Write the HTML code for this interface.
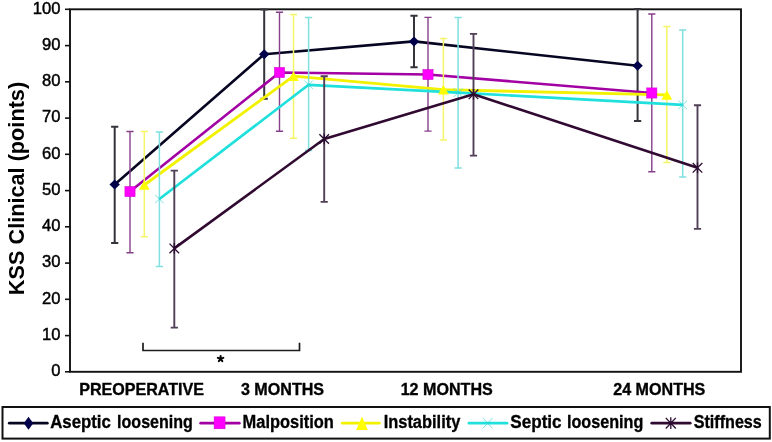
<!DOCTYPE html><html><head><meta charset="utf-8"><style>html,body{margin:0;padding:0;background:#fff;width:772px;height:442px;overflow:hidden}svg{display:block}text{font-family:"Liberation Sans",sans-serif}</style></head><body>
<svg width="772" height="442" viewBox="0 0 772 442">
<rect width="772" height="442" fill="#fff"/>
<g style="will-change:transform">
<rect x="70" y="9.3" width="671" height="362.5" fill="none" stroke="#111" stroke-width="1.9"/>
<line x1="65" y1="371.8" x2="70" y2="371.8" stroke="#111" stroke-width="1.6"/>
<text x="60.5" y="376.1" font-size="16.6" text-anchor="end" fill="#000" stroke="#000" stroke-width="0.45">0</text>
<line x1="65" y1="335.6" x2="70" y2="335.6" stroke="#111" stroke-width="1.6"/>
<text x="60.5" y="339.9" font-size="16.6" text-anchor="end" fill="#000" stroke="#000" stroke-width="0.45">10</text>
<line x1="65" y1="299.3" x2="70" y2="299.3" stroke="#111" stroke-width="1.6"/>
<text x="60.5" y="303.6" font-size="16.6" text-anchor="end" fill="#000" stroke="#000" stroke-width="0.45">20</text>
<line x1="65" y1="263.1" x2="70" y2="263.1" stroke="#111" stroke-width="1.6"/>
<text x="60.5" y="267.4" font-size="16.6" text-anchor="end" fill="#000" stroke="#000" stroke-width="0.45">30</text>
<line x1="65" y1="226.8" x2="70" y2="226.8" stroke="#111" stroke-width="1.6"/>
<text x="60.5" y="231.1" font-size="16.6" text-anchor="end" fill="#000" stroke="#000" stroke-width="0.45">40</text>
<line x1="65" y1="190.6" x2="70" y2="190.6" stroke="#111" stroke-width="1.6"/>
<text x="60.5" y="194.9" font-size="16.6" text-anchor="end" fill="#000" stroke="#000" stroke-width="0.45">50</text>
<line x1="65" y1="154.3" x2="70" y2="154.3" stroke="#111" stroke-width="1.6"/>
<text x="60.5" y="158.6" font-size="16.6" text-anchor="end" fill="#000" stroke="#000" stroke-width="0.45">60</text>
<line x1="65" y1="118.1" x2="70" y2="118.1" stroke="#111" stroke-width="1.6"/>
<text x="60.5" y="122.4" font-size="16.6" text-anchor="end" fill="#000" stroke="#000" stroke-width="0.45">70</text>
<line x1="65" y1="81.8" x2="70" y2="81.8" stroke="#111" stroke-width="1.6"/>
<text x="60.5" y="86.1" font-size="16.6" text-anchor="end" fill="#000" stroke="#000" stroke-width="0.45">80</text>
<line x1="65" y1="45.6" x2="70" y2="45.6" stroke="#111" stroke-width="1.6"/>
<text x="60.5" y="49.9" font-size="16.6" text-anchor="end" fill="#000" stroke="#000" stroke-width="0.45">90</text>
<line x1="65" y1="9.3" x2="70" y2="9.3" stroke="#111" stroke-width="1.6"/>
<text x="60.5" y="13.6" font-size="16.6" text-anchor="end" fill="#000" stroke="#000" stroke-width="0.45">100</text>
<text transform="translate(24,188.5) rotate(-90)" font-size="21.7" font-weight="bold" text-anchor="middle" fill="#000">KSS Clinical (points)</text>
<text x="141.6" y="394.6" font-size="16.1" font-weight="bold" text-anchor="middle" fill="#000" stroke="#000" stroke-width="0.35">PREOPERATIVE</text>
<text x="282.5" y="394.6" font-size="16.1" font-weight="bold" text-anchor="middle" fill="#000" stroke="#000" stroke-width="0.35">3 MONTHS</text>
<text x="446.7" y="394.6" font-size="16.1" font-weight="bold" text-anchor="middle" fill="#000" stroke="#000" stroke-width="0.35">12 MONTHS</text>
<text x="659.3" y="394.6" font-size="16.1" font-weight="bold" text-anchor="middle" fill="#000" stroke="#000" stroke-width="0.35">24 MONTHS</text>
<path d="M143 342.8V350.5H299.5V342.8" fill="none" stroke="#1c1c1c" stroke-width="1.7"/>
<path d="M220.6 358.8L220.60 355.90M220.6 358.8L223.36 357.90M220.6 358.8L222.30 361.15M220.6 358.8L218.90 361.15M220.6 358.8L217.84 357.90" stroke="#000" stroke-width="2.0" stroke-linecap="round" fill="none"/>
<path d="M114.7 126.8V243.0M111.1 126.8H118.3M111.1 243.0H118.3" stroke="#34343c" stroke-width="2.0" fill="none"/>
<path d="M264.2 9.5V98.7M260.6 9.5H267.8M260.6 98.7H267.8" stroke="#34343c" stroke-width="2.0" fill="none"/>
<path d="M414.0 15.8V67.2M410.4 15.8H417.6M410.4 67.2H417.6" stroke="#34343c" stroke-width="2.0" fill="none"/>
<path d="M637.6 9.0V121.1M634.0 9.0H641.2M634.0 121.1H641.2" stroke="#34343c" stroke-width="2.0" fill="none"/>
<polyline points="114.7,184.6 264.2,54.2 414.0,41.4 637.6,65.7" fill="none" stroke="#060622" stroke-width="2.6" stroke-linejoin="round"/>
<path d="M130.0 131.5V252.7M126.4 131.5H133.6M126.4 252.7H133.6" stroke="#86408a" stroke-width="1.4" fill="none"/>
<path d="M279.5 12.2V131.3M275.9 12.2H283.1M275.9 131.3H283.1" stroke="#86408a" stroke-width="1.4" fill="none"/>
<path d="M428.0 17.4V131.1M424.4 17.4H431.6M424.4 131.1H431.6" stroke="#86408a" stroke-width="1.4" fill="none"/>
<path d="M651.8 14.0V171.7M648.2 14.0H655.4M648.2 171.7H655.4" stroke="#86408a" stroke-width="1.4" fill="none"/>
<polyline points="130.0,191.6 279.5,72.5 428.0,74.5 651.8,93.0" fill="none" stroke="#a300a3" stroke-width="2.6" stroke-linejoin="round"/>
<path d="M144.3 131.6V236.7M140.7 131.6H147.9M140.7 236.7H147.9" stroke="#f5f56a" stroke-width="1.5" fill="none"/>
<path d="M293.5 14.6V138.2M289.9 14.6H297.1M289.9 138.2H297.1" stroke="#f5f56a" stroke-width="1.5" fill="none"/>
<path d="M443.4 38.5V140.1M439.8 38.5H447.0M439.8 140.1H447.0" stroke="#f5f56a" stroke-width="1.5" fill="none"/>
<path d="M666.8 26.5V162.6M663.2 26.5H670.4M663.2 162.6H670.4" stroke="#f5f56a" stroke-width="1.5" fill="none"/>
<polyline points="144.3,185.0 293.5,76.2 443.4,89.7 666.8,94.9" fill="none" stroke="#f2f200" stroke-width="2.8" stroke-linejoin="round"/>
<path d="M159.4 131.9V266.6M155.8 131.9H163.0M155.8 266.6H163.0" stroke="#80e0e0" stroke-width="1.5" fill="none"/>
<path d="M308.6 17.5V150.5M305.0 17.5H312.2M305.0 150.5H312.2" stroke="#80e0e0" stroke-width="1.5" fill="none"/>
<path d="M458.1 17.4V168.1M454.5 17.4H461.7M454.5 168.1H461.7" stroke="#80e0e0" stroke-width="1.5" fill="none"/>
<path d="M682.7 30.1V176.9M679.1 30.1H686.3M679.1 176.9H686.3" stroke="#80e0e0" stroke-width="1.5" fill="none"/>
<polyline points="159.4,199.0 308.6,84.8 458.1,92.6 682.7,104.9" fill="none" stroke="#1fe0dc" stroke-width="2.7" stroke-linejoin="round"/>
<path d="M174.3 170.6V327.6M170.7 170.6H177.9M170.7 327.6H177.9" stroke="#503f56" stroke-width="1.9" fill="none"/>
<path d="M324.2 76.3V201.9M320.6 76.3H327.8M320.6 201.9H327.8" stroke="#503f56" stroke-width="1.9" fill="none"/>
<path d="M473.5 33.9V155.6M469.9 33.9H477.1M469.9 155.6H477.1" stroke="#503f56" stroke-width="1.9" fill="none"/>
<path d="M697.5 105.2V228.9M693.9 105.2H701.1M693.9 228.9H701.1" stroke="#503f56" stroke-width="1.9" fill="none"/>
<polyline points="174.3,248.4 324.2,139.0 473.5,94.3 697.5,167.8" fill="none" stroke="#300a30" stroke-width="2.6" stroke-linejoin="round"/>
<path d="M114.7 179.6L119.9 184.6L114.7 189.6L109.5 184.6Z" fill="#00004a"/>
<path d="M264.2 49.2L269.4 54.2L264.2 59.2L259.0 54.2Z" fill="#00004a"/>
<path d="M414.0 36.4L419.2 41.4L414.0 46.4L408.8 41.4Z" fill="#00004a"/>
<path d="M637.6 60.7L642.8 65.7L637.6 70.7L632.4 65.7Z" fill="#00004a"/>
<rect x="124.9" y="186.5" width="10.2" height="10.2" fill="#ff00ff" stroke="#d000d0" stroke-width="0.5"/>
<rect x="274.4" y="67.4" width="10.2" height="10.2" fill="#ff00ff" stroke="#d000d0" stroke-width="0.5"/>
<rect x="422.9" y="69.4" width="10.2" height="10.2" fill="#ff00ff" stroke="#d000d0" stroke-width="0.5"/>
<rect x="646.7" y="87.9" width="10.2" height="10.2" fill="#ff00ff" stroke="#d000d0" stroke-width="0.5"/>
<path d="M144.3 180.2L149.7 189.8L138.9 189.8Z" fill="#ffff00"/>
<path d="M293.5 71.4L298.9 81.0L288.1 81.0Z" fill="#ffff00"/>
<path d="M443.4 84.9L448.8 94.5L438.0 94.5Z" fill="#ffff00"/>
<path d="M666.8 90.1L672.2 99.7L661.4 99.7Z" fill="#ffff00"/>
<path d="M155.1 194.7L163.7 203.3M163.7 194.7L155.1 203.3" stroke="#2cd0d0" stroke-width="0.9" fill="none" opacity="0.7"/>
<path d="M304.3 80.5L312.9 89.1M312.9 80.5L304.3 89.1" stroke="#2cd0d0" stroke-width="0.9" fill="none" opacity="0.7"/>
<path d="M453.8 88.3L462.4 96.9M462.4 88.3L453.8 96.9" stroke="#2cd0d0" stroke-width="0.9" fill="none" opacity="0.7"/>
<path d="M678.4 100.6L687.0 109.2M687.0 100.6L678.4 109.2" stroke="#2cd0d0" stroke-width="0.9" fill="none" opacity="0.7"/>
<path d="M169.5 243.6L179.1 253.2M179.1 243.6L169.5 253.2M174.3 243.0L174.3 253.8" stroke="#2a0a30" stroke-width="1.3" fill="none"/>
<path d="M319.4 134.2L329.0 143.8M329.0 134.2L319.4 143.8M324.2 133.6L324.2 144.4" stroke="#2a0a30" stroke-width="1.3" fill="none"/>
<path d="M468.7 89.5L478.3 99.1M478.3 89.5L468.7 99.1M473.5 88.9L473.5 99.7" stroke="#2a0a30" stroke-width="1.3" fill="none"/>
<path d="M692.7 163.0L702.3 172.6M702.3 163.0L692.7 172.6M697.5 162.4L697.5 173.2" stroke="#2a0a30" stroke-width="1.3" fill="none"/>
<rect x="2.5" y="407" width="767.3" height="31.6" fill="none" stroke="#111" stroke-width="2"/>
<line x1="9.3" y1="423.2" x2="47.300000000000004" y2="423.2" stroke="#060622" stroke-width="2.8" stroke-linecap="round"/>
<path d="M28.5 416.7L33.2 423.2L28.5 429.7L23.8 423.2Z" fill="#00004a"/>
<line x1="200.70000000000002" y1="423.2" x2="239.29999999999998" y2="423.2" stroke="#a300a3" stroke-width="2.8" stroke-linecap="round"/>
<rect x="214.1" y="416.8" width="11.0" height="12.0" fill="#ff00ff" stroke="#d000d0" stroke-width="0.5"/>
<line x1="342.3" y1="423.2" x2="379.3" y2="423.2" stroke="#f2f200" stroke-width="2.8" stroke-linecap="round"/>
<path d="M362.0 416.5L367.8 429.9L356.2 429.9Z" fill="#ffff00"/>
<line x1="469.0" y1="423.2" x2="507.0" y2="423.2" stroke="#1fe0dc" stroke-width="2.8" stroke-linecap="round"/>
<path d="M482.9 418.0L492.5 428.4M492.5 418.0L482.9 428.4" stroke="#2cd0d0" stroke-width="0.9" fill="none" opacity="0.7"/>
<line x1="651.8" y1="423.2" x2="690.2" y2="423.2" stroke="#300a30" stroke-width="2.8" stroke-linecap="round"/>
<path d="M665.8 417.9L675.8 428.5M675.8 417.9L665.8 428.5M670.8 417.3L670.8 429.1" stroke="#2a0a30" stroke-width="1.3" fill="none"/>
<g transform="translate(0,428.1) scale(1,1.07) translate(0,-428.1)">
<text x="50.2" y="428.1" font-size="16.5" font-weight="bold" fill="#000" stroke="#000" stroke-width="0.3" textLength="60.7" lengthAdjust="spacingAndGlyphs">Aseptic</text>
<text x="117.1" y="428.1" font-size="16.5" font-weight="bold" fill="#000" stroke="#000" stroke-width="0.3" textLength="75.7" lengthAdjust="spacingAndGlyphs">loosening</text>
<text x="242.6" y="428.1" font-size="16.5" font-weight="bold" fill="#000" stroke="#000" stroke-width="0.3" textLength="91.3" lengthAdjust="spacingAndGlyphs">Malposition</text>
<text x="383.7" y="428.1" font-size="16.5" font-weight="bold" fill="#000" stroke="#000" stroke-width="0.3" textLength="76.6" lengthAdjust="spacingAndGlyphs">Instability</text>
<text x="510.3" y="428.1" font-size="16.5" font-weight="bold" fill="#000" stroke="#000" stroke-width="0.3" textLength="51.3" lengthAdjust="spacingAndGlyphs">Septic</text>
<text x="567.0" y="428.1" font-size="16.5" font-weight="bold" fill="#000" stroke="#000" stroke-width="0.3" textLength="76.4" lengthAdjust="spacingAndGlyphs">loosening</text>
<text x="693.7" y="428.1" font-size="16.5" font-weight="bold" fill="#000" stroke="#000" stroke-width="0.3" textLength="68.1" lengthAdjust="spacingAndGlyphs">Stiffness</text>
</g>
</g></svg></body></html>
